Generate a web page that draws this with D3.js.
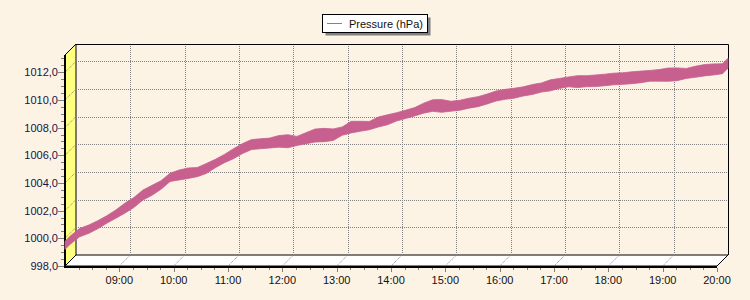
<!DOCTYPE html>
<html>
<head>
<meta charset="utf-8">
<script src="https://cdn.jsdelivr.net/npm/d3@7"></script>
<style>
  body { margin: 0; background: #fdf3e5; }
  svg { display: block; font-family: "Liberation Sans", Arial, sans-serif; font-size: 11px; }
</style>
</head>
<body>
<div id="canvas"></div>
<script>
// readings every 10 minutes, 08:00 - 20:00 (lowest / highest value in each interval)
const times = [
  "08:00","08:10","08:20","08:30","08:40","08:50","09:00","09:10","09:20","09:30","09:40","09:50",
  "10:00","10:10","10:20","10:30","10:40","10:50","11:00","11:10","11:20","11:30","11:40","11:50",
  "12:00","12:10","12:20","12:30","12:40","12:50","13:00","13:10","13:20","13:30","13:40","13:50",
  "14:00","14:10","14:20","14:30","14:40","14:50","15:00","15:10","15:20","15:30","15:40","15:50",
  "16:00","16:10","16:20","16:30","16:40","16:50","17:00","17:10","17:20","17:30","17:40","17:50",
  "18:00","18:10","18:20","18:30","18:40","18:50","19:00","19:10","19:20","19:30","19:40","19:50",
  "20:00"
];
const pressureLow = [
  999.20, 999.71, 999.96, 1000.29, 1000.69, 1001.05, 1001.42, 1001.83, 1002.37, 1002.71, 1003.15, 1003.71,
  1003.82, 1003.93, 1004.06, 1004.29, 1004.71, 1005.07, 1005.36, 1005.73, 1006.02, 1006.08, 1006.13, 1006.19,
  1006.15, 1006.31, 1006.44, 1006.56, 1006.59, 1006.67, 1007.05, 1007.22, 1007.34, 1007.45, 1007.65, 1007.81,
  1008.08, 1008.26, 1008.45, 1008.65, 1008.78, 1008.71, 1008.79, 1008.86, 1009.01, 1009.12, 1009.31, 1009.53,
  1009.65, 1009.73, 1009.89, 1010.00, 1010.17, 1010.26, 1010.44, 1010.55, 1010.50, 1010.56, 1010.57, 1010.63,
  1010.70, 1010.73, 1010.78, 1010.85, 1010.96, 1010.96, 1010.95, 1011.00, 1011.16, 1011.24, 1011.34, 1011.41,
  1011.50
];
const pressureHigh = [
  999.78, 1000.31, 1000.56, 1000.87, 1001.23, 1001.65, 1002.14, 1002.55, 1003.09, 1003.43, 1003.77, 1004.31,
  1004.54, 1004.69, 1004.72, 1005.01, 1005.31, 1005.67, 1006.08, 1006.45, 1006.74, 1006.80, 1006.85, 1007.03,
  1007.09, 1006.97, 1007.24, 1007.50, 1007.55, 1007.51, 1007.65, 1008.06, 1008.06, 1008.05, 1008.37, 1008.53,
  1008.68, 1008.86, 1009.05, 1009.37, 1009.62, 1009.63, 1009.51, 1009.58, 1009.73, 1009.84, 1010.03, 1010.25,
  1010.37, 1010.45, 1010.55, 1010.72, 1010.83, 1011.06, 1011.16, 1011.27, 1011.36, 1011.36, 1011.41, 1011.47,
  1011.54, 1011.57, 1011.64, 1011.69, 1011.74, 1011.80, 1011.91, 1011.92, 1011.88, 1012.04, 1012.16, 1012.21,
  1012.22
];
const yTicks = [998, 1000, 1002, 1004, 1006, 1008, 1010, 1012];
const xTicks = ["09:00","10:00","11:00","12:00","13:00","14:00","15:00","16:00","17:00","18:00","19:00","20:00"];
const seriesName = "Pressure (hPa)";

function createGraph() {
    const width = 750, height = 300;
    const depth = 11;
    const left = 65, right = 717, top = 55, bottom = 266;
    const pink = "#c8608f", grid = "#808080";

    const parse = d3.timeParse("%H:%M");
    const data = times.map((t, i) => ({ t: parse(t), lo: pressureLow[i], hi: pressureHigh[i] }));

    const svg = d3.select("#canvas")
        .append("svg")
        .attr("width", width)
        .attr("height", height);

    svg.append("rect").attr("width", width).attr("height", height).attr("fill", "#fdf3e5");

    const x = d3.scaleTime()
        .domain([parse("08:00"), parse("20:00")])
        .range([left, right]);

    const y = d3.scaleLinear()
        .domain([998, 1013.25])
        .range([bottom, top]);

    const px = v => Math.round(v) + 0.5;

    // left wall
    svg.append("polygon")
        .attr("points", [[left, top], [left + depth, top - depth], [left + depth, bottom - depth], [left, bottom]].join(" "))
        .attr("fill", "#ffff80")
        .attr("stroke", "#000");

    // floor
    svg.append("polygon")
        .attr("points", [[left, bottom], [left + depth, bottom - depth], [right + depth, bottom - depth], [right, bottom]].join(" "))
        .attr("fill", "#fff")
        .attr("stroke", "#000");

    // back wall grid
    svg.append("g")
        .selectAll("line")
        .data(yTicks.slice(1))
        .join("line")
        .attr("x1", left + depth).attr("x2", right + depth)
        .attr("y1", d => px(y(d) - depth)).attr("y2", d => px(y(d) - depth))
        .attr("stroke", grid)
        .attr("stroke-dasharray", "1,1");

    svg.append("g")
        .selectAll("line")
        .data(xTicks.slice(0, -1))
        .join("line")
        .attr("x1", d => px(x(parse(d)) + depth)).attr("x2", d => px(x(parse(d)) + depth))
        .attr("y1", top - depth).attr("y2", bottom - depth)
        .attr("stroke", grid)
        .attr("stroke-dasharray", "1,1");

    // depth lines on wall and floor
    svg.append("g")
        .selectAll("line")
        .data(yTicks.slice(1))
        .join("line")
        .attr("x1", left).attr("y1", d => y(d))
        .attr("x2", left + depth).attr("y2", d => y(d) - depth)
        .attr("stroke", grid)
        .attr("stroke-dasharray", "1,1");

    svg.append("g")
        .selectAll("line")
        .data(xTicks.slice(0, -1))
        .join("line")
        .attr("x1", d => x(parse(d))).attr("y1", bottom)
        .attr("x2", d => x(parse(d)) + depth).attr("y2", bottom - depth)
        .attr("stroke", grid)
        .attr("stroke-dasharray", "1,1");

    // back wall border
    svg.append("path")
        .attr("d", `M${left + depth},${top - depth + 0.5}H${right + depth + 0.5}V${bottom - depth}`)
        .attr("fill", "none")
        .attr("stroke", "#000");

    // front axis lines
    svg.append("path")
        .attr("d", `M${left},${top}V${bottom + 2}`)
        .attr("stroke", "#000").attr("stroke-width", 2);
    svg.append("path")
        .attr("d", `M${left},${bottom + 1}H${right}`)
        .attr("stroke", "#000").attr("stroke-width", 2);
    svg.append("line")
        .attr("x1", right).attr("y1", bottom)
        .attr("x2", right + depth).attr("y2", bottom - depth)
        .attr("stroke", "#000");

    // y ticks + labels
    const yMinor = d3.range(998, 1013.01, 0.5);
    svg.append("g")
        .selectAll("line")
        .data(yMinor)
        .join("line")
        .attr("x1", d => (d % 2 === 0 ? left - 7 : left - 4)).attr("x2", left - 1)
        .attr("y1", d => px(y(d))).attr("y2", d => px(y(d)))
        .attr("stroke", grid);

    svg.append("g")
        .selectAll("text")
        .data(yTicks)
        .join("text")
        .attr("x", left - 7)
        .attr("y", d => y(d) + 4)
        .attr("text-anchor", "end")
        .attr("fill", "#141446")
        .text(d => d3.format(".1f")(d).replace(".", ","));

    // x ticks + labels
    const xMinor = d3.timeMinute.every(15).range(parse("08:15"), parse("20:01"));
    svg.append("g")
        .selectAll("line")
        .data(xMinor)
        .join("line")
        .attr("x1", d => px(x(d))).attr("x2", d => px(x(d)))
        .attr("y1", bottom + 2)
        .attr("y2", d => (d.getMinutes() === 0 ? bottom + 6 : bottom + 4))
        .attr("stroke", grid);

    svg.append("g")
        .selectAll("text")
        .data(xTicks)
        .join("text")
        .attr("x", d => x(parse(d)))
        .attr("y", 284)
        .attr("text-anchor", "middle")
        .attr("fill", "#111")
        .text(d => d);

    // series band, drawn halfway into the depth, with end caps running front to back
    const band = (off) => d3.area()
        .x(d => x(d.t) + off(d))
        .y0(d => y(d.lo) - off(d))
        .y1(d => y(d.hi) - off(d));

    const g = svg.append("g")
        .attr("fill", pink)
        .attr("stroke", pink)
        .attr("stroke-width", 0.8);

    g.append("path")
        .datum(data)
        .attr("d", band(() => depth / 2));

    const first = data[0], last = data[data.length - 1];
    g.append("path")
        .datum([{ ...first, o: 0 }, { ...first, o: depth / 2 }])
        .attr("d", band(d => d.o));
    g.append("path")
        .datum([{ ...last, o: depth / 2 }, { ...last, o: depth }])
        .attr("d", band(d => d.o));

    // legend
    const legend = svg.append("g").attr("transform", "translate(322,14)");
    legend.append("rect")
        .attr("x", 3.5).attr("y", 3.5).attr("width", 105).attr("height", 18)
        .attr("fill", "#808080");
    legend.append("rect")
        .attr("x", 0.5).attr("y", 0.5).attr("width", 105).attr("height", 18)
        .attr("fill", "#fff").attr("stroke", "#000");
    legend.append("line")
        .attr("x1", 5).attr("x2", 20)
        .attr("y1", 9.5).attr("y2", 9.5)
        .attr("stroke", pink);
    legend.append("text")
        .attr("x", 27).attr("y", 14)
        .attr("fill", "#111")
        .text(seriesName);
}

createGraph();
</script>
</body>
</html>
